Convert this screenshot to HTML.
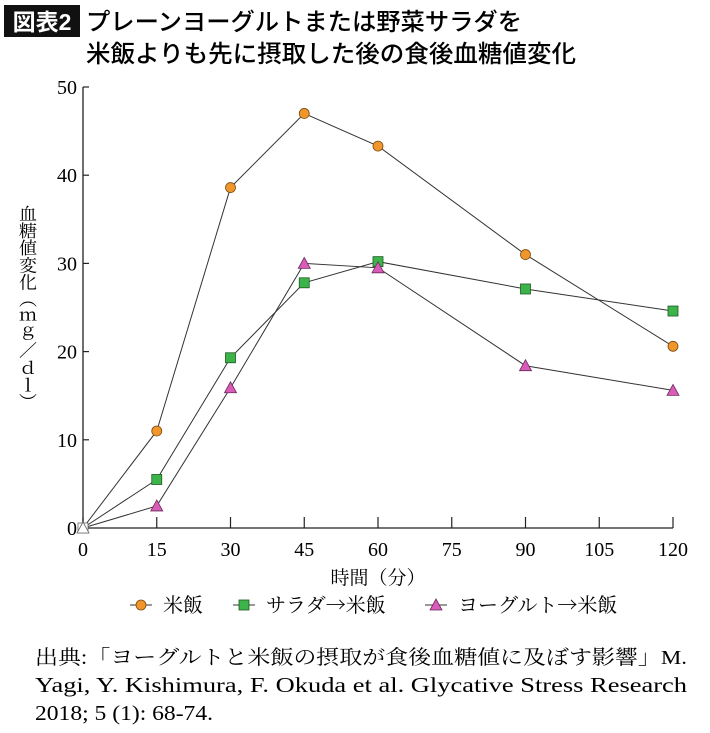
<!DOCTYPE html>
<html><head><meta charset="utf-8"><style>
body{margin:0;background:#fff;width:710px;height:728px;overflow:hidden;font-family:"Liberation Sans","Noto Sans CJK JP",sans-serif}
svg text{font-family:"Liberation Serif","Noto Serif CJK SC",serif}
</style></head><body>
<svg width="710" height="728" xmlns="http://www.w3.org/2000/svg">
<rect x="4" y="5" width="76" height="32" fill="#111"/>
<text x="42" y="30" fill="#fff" font-size="23" text-anchor="middle" style="font-family:'Liberation Sans','Noto Sans CJK JP',sans-serif;font-weight:bold">図表2</text>
<text x="86" y="30" font-size="24" textLength="436" lengthAdjust="spacingAndGlyphs" style="font-family:'Liberation Sans','Noto Sans CJK JP',sans-serif;font-weight:500">プレーンヨーグルトまたは野菜サラダを</text>
<text x="86" y="62" font-size="24" textLength="490" lengthAdjust="spacingAndGlyphs" style="font-family:'Liberation Sans','Noto Sans CJK JP',sans-serif;font-weight:500">米飯よりも先に摂取した後の食後血糖値変化</text>
<g id="axes"></g><g id="series"></g>
<text x="27" y="205" font-size="18" textLength="205" lengthAdjust="spacingAndGlyphs" style="writing-mode:vertical-rl;font-family:'Liberation Serif','Noto Serif CJK JP',serif">血糖値変化（ｍｇ／ｄｌ）</text>
<text x="378" y="584" font-size="19" text-anchor="middle" style="font-family:'Liberation Serif','Noto Serif CJK JP',serif">時間（分）</text>
<g id="legend"></g>
<text x="35" y="664" font-size="20" style="font-family:'Liberation Serif','Noto Serif CJK JP',serif" textLength="652" lengthAdjust="spacingAndGlyphs">出典:「ヨーグルトと米飯の摂取が食後血糖値に及ぼす影響」M.</text>
<text x="35" y="692" font-size="21" textLength="652" lengthAdjust="spacingAndGlyphs">Yagi, Y. Kishimura, F. Okuda et al. Glycative Stress Research</text>
<text x="35" y="720" font-size="21" textLength="178" lengthAdjust="spacingAndGlyphs">2018; 5 (1): 68-74.</text>
</svg>
<script>
const xTimes=[0,15,30,45,60,90,120];
const riceVals=[0,11,38.6,47,43.3,31,20.6];
const saladVals=[0,5.5,19.3,27.8,30.2,27.1,24.6];
const yogurtVals=[0,2.5,15.9,30,29.5,18.4,15.6];
const xTicks=[0,15,30,45,60,75,90,105,120];
const yTicks=[0,10,20,30,40,50];
const NS='http://www.w3.org/2000/svg';
const X=v=>83+v*(590/120), Y=v=>528-v*(441/50);
function mk(t,a,p){const e=document.createElementNS(NS,t);for(const k in a)e.setAttribute(k,a[k]);p.appendChild(e);return e;}
const ax=document.getElementById('axes');
let l=mk('path',{d:`M${X(0)},${Y(50)}V${Y(0)}H${X(120)}`,stroke:'#222','stroke-width':1.3,fill:'none'},ax);


xTicks.forEach(v=>{
 const t=mk('line',{x1:X(v),x2:X(v),y1:Y(0),y2:Y(0)-11,stroke:'#222','stroke-width':1.2},ax);
 
 
 const tx=mk('text',{x:X(v),y:556,'font-size':20,'text-anchor':'middle'},ax);tx.textContent=v;
 
 
});
yTicks.forEach(v=>{
 const t=mk('line',{x1:X(0),x2:X(0)+6,y1:Y(v),y2:Y(v),stroke:'#222','stroke-width':1.2},ax);
 
 
 const tx=mk('text',{x:77,y:Y(v)+7,'font-size':20,'text-anchor':'end'},ax);tx.textContent=v;
 
 
});
function marker(kind,cx,cy,p){
 if(kind==='c')return mk('circle',{cx,cy,r:5,fill:'#f0962b',stroke:'#7a4a10','stroke-width':0.8},p);
 if(kind==='s')return mk('rect',{x:cx-5,y:cy-5,width:10,height:10,fill:'#3cb44a',stroke:'#1d5a22','stroke-width':0.8},p);
 return mk('path',{d:`M${cx},${cy-6}L${cx+6},${cy+5}L${cx-6},${cy+5}Z`,fill:'#d85cb8',stroke:'#6a2a5a','stroke-width':0.8},p);
}
const sg=document.getElementById('series');
[[riceVals,'c','rice'],[saladVals,'s','salad-rice'],[yogurtVals,'t','yogurt-rice']].forEach(([vals,k,n])=>{
 const pl=mk('polyline',{points:vals.map((v,i)=>X(xTimes[i])+','+Y(v)).join(' '),fill:'none',stroke:'#333','stroke-width':1},sg);
 
 
});
[[riceVals,'c','rice'],[saladVals,'s','salad-rice'],[yogurtVals,'t','yogurt-rice']].forEach(([vals,k,n])=>{
 vals.forEach((v,i)=>{
  if(i===0){const z=marker(k,X(0),Y(0),sg);z.setAttribute('fill','#fff');z.setAttribute('stroke','#666');return;}
  const m=marker(k,X(xTimes[i]),Y(v),sg);
  
  
 });
});
const lg=document.getElementById('legend');
[[130,'c','米飯'],[233,'s','サラダ→米飯'],[425,'t','ヨーグルト→米飯']].forEach(([x,k,txt])=>{
 const g=mk('g',{},lg);
 
 
 mk('line',{x1:x,x2:x+22,y1:605,y2:605,stroke:'#333','stroke-width':1},g);
 marker(k,x+11,605,g);
 const t=mk('text',{x:x+33,y:612,'font-size':20,style:"font-family:'Noto Serif CJK SC','Noto Sans CJK JP',serif"},g);t.textContent=txt;
});
</script>
</body></html>
